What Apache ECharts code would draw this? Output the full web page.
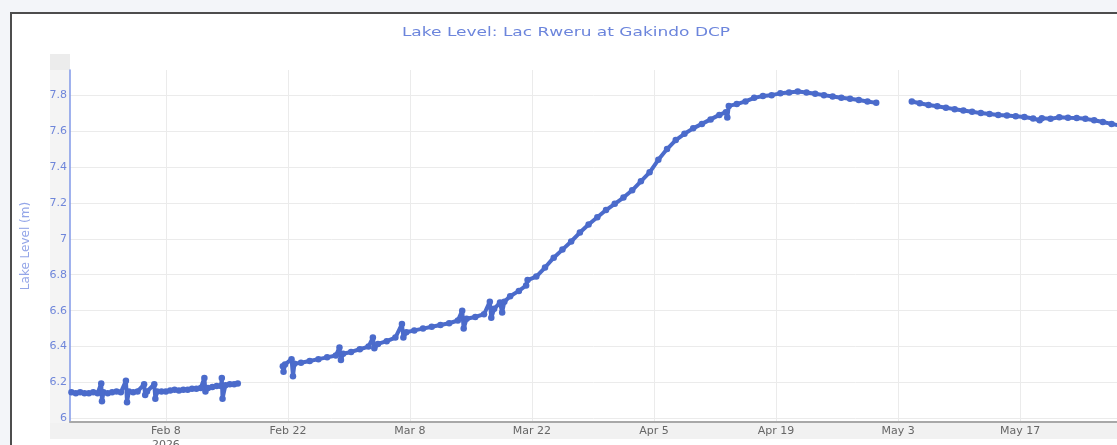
<!DOCTYPE html>
<html>
<head>
<meta charset="utf-8">
<title>Lake Level: Lac Rweru at Gakindo DCP</title>
<script src="https://cdn.jsdelivr.net/npm/echarts@6/dist/echarts.min.js"></script>
<style>
  html, body { margin: 0; padding: 0; width: 1117px; height: 445px; overflow: hidden; background: #f3f5f9; }
  .frame { position: absolute; left: 10px; top: 12px; width: 1200px; height: 500px; border: 2px solid #4d4d4d; background: #fff; }
  #chart { position: absolute; left: 0; top: 0; width: 1117px; height: 445px; }
</style>
</head>
<body>
<div class="frame"></div>
<div id="chart"></div>
<script>
// readings (local time); null = gap in the record
const times = [
  '2026-01-28T04:00', '2026-01-28T16:00', '2026-01-29T04:00', '2026-01-29T16:00',
  '2026-01-30T04:00', '2026-01-30T16:00', '2026-01-31T04:00', '2026-01-31T14:00',
  '2026-01-31T16:00', '2026-01-31T20:00', '2026-02-01T08:00', '2026-02-01T20:00',
  '2026-02-02T08:00', '2026-02-02T20:00', '2026-02-03T10:00', '2026-02-03T13:00',
  '2026-02-03T18:00', '2026-02-04T06:00', '2026-02-04T18:00', '2026-02-05T12:00',
  '2026-02-05T15:00', '2026-02-05T20:00', '2026-02-06T16:00', '2026-02-06T19:00',
  '2026-02-07T00:00', '2026-02-07T12:00', '2026-02-08T00:00', '2026-02-08T12:00',
  '2026-02-09T00:00', '2026-02-09T12:00', '2026-02-10T00:00', '2026-02-10T12:00',
  '2026-02-11T00:00', '2026-02-11T12:00', '2026-02-12T00:00', '2026-02-12T10:00',
  '2026-02-12T13:00', '2026-02-12T20:00', '2026-02-13T08:00', '2026-02-13T20:00',
  '2026-02-14T08:00', '2026-02-14T10:00', '2026-02-14T12:00', '2026-02-14T20:00',
  '2026-02-15T08:00', '2026-02-15T20:00', '2026-02-16T06:00',
  '2026-02-18T00:00',
  '2026-02-21T10:00', '2026-02-21T12:00', '2026-02-21T16:00', '2026-02-22T10:00',
  '2026-02-22T14:00', '2026-02-22T18:00', '2026-02-23T12:00', '2026-02-24T12:00',
  '2026-02-25T12:00', '2026-02-26T12:00', '2026-02-27T12:00', '2026-02-27T22:00',
  '2026-02-28T02:00', '2026-02-28T08:00', '2026-03-01T06:00', '2026-03-02T06:00',
  '2026-03-03T06:00', '2026-03-03T18:00', '2026-03-03T22:00', '2026-03-04T08:00',
  '2026-03-05T08:00', '2026-03-06T08:00', '2026-03-07T02:00', '2026-03-07T06:00',
  '2026-03-07T14:00', '2026-03-08T12:00', '2026-03-09T12:00', '2026-03-10T12:00',
  '2026-03-11T12:00', '2026-03-12T12:00', '2026-03-13T12:00', '2026-03-14T00:00',
  '2026-03-14T04:00', '2026-03-14T12:00', '2026-03-15T12:00', '2026-03-16T12:00',
  '2026-03-17T04:00', '2026-03-17T08:00', '2026-03-17T16:00', '2026-03-18T08:00',
  '2026-03-18T14:00', '2026-03-18T20:00', '2026-03-19T12:00', '2026-03-20T12:00',
  '2026-03-21T08:00', '2026-03-21T12:00', '2026-03-22T12:00', '2026-03-23T12:00',
  '2026-03-24T12:00', '2026-03-25T12:00', '2026-03-26T12:00', '2026-03-27T12:00',
  '2026-03-28T12:00', '2026-03-29T12:00', '2026-03-30T12:00', '2026-03-31T12:00',
  '2026-04-01T12:00', '2026-04-02T12:00', '2026-04-03T12:00', '2026-04-04T12:00',
  '2026-04-05T12:00', '2026-04-06T12:00', '2026-04-07T12:00', '2026-04-08T12:00',
  '2026-04-09T12:00', '2026-04-10T12:00', '2026-04-11T12:00', '2026-04-12T12:00',
  '2026-04-13T06:00', '2026-04-13T10:00', '2026-04-13T14:00', '2026-04-14T12:00',
  '2026-04-15T12:00', '2026-04-16T12:00', '2026-04-17T12:00', '2026-04-18T12:00',
  '2026-04-19T12:00', '2026-04-20T12:00', '2026-04-21T12:00', '2026-04-22T12:00',
  '2026-04-23T12:00', '2026-04-24T12:00', '2026-04-25T12:00', '2026-04-26T12:00',
  '2026-04-27T12:00', '2026-04-28T12:00', '2026-04-29T12:00', '2026-04-30T12:00',
  '2026-05-02T00:00',
  '2026-05-04T14:00', '2026-05-05T12:00', '2026-05-06T12:00', '2026-05-07T12:00',
  '2026-05-08T12:00', '2026-05-09T12:00', '2026-05-10T12:00', '2026-05-11T12:00',
  '2026-05-12T12:00', '2026-05-13T12:00', '2026-05-14T12:00', '2026-05-15T12:00',
  '2026-05-16T12:00', '2026-05-17T12:00', '2026-05-18T12:00', '2026-05-19T06:00',
  '2026-05-19T12:00', '2026-05-20T12:00', '2026-05-21T12:00', '2026-05-22T12:00',
  '2026-05-23T12:00', '2026-05-24T12:00', '2026-05-25T12:00', '2026-05-26T12:00',
  '2026-05-27T12:00', '2026-05-28T06:00'
];

const levels = [
  6.145, 6.14, 6.145, 6.14,
  6.14, 6.145, 6.14, 6.195,
  6.095, 6.145, 6.14, 6.145,
  6.15, 6.145, 6.21, 6.09,
  6.15, 6.145, 6.15, 6.19,
  6.13, 6.15, 6.19, 6.11,
  6.15, 6.15, 6.15, 6.155,
  6.16, 6.155, 6.16, 6.16,
  6.165, 6.165, 6.17, 6.225,
  6.15, 6.17, 6.175, 6.18,
  6.18, 6.225, 6.11, 6.185,
  6.19, 6.19, 6.195,
  null,
  6.29, 6.26, 6.30, 6.33,
  6.235, 6.305, 6.31, 6.32,
  6.33, 6.34, 6.35, 6.395,
  6.325, 6.36, 6.37, 6.385,
  6.40, 6.45, 6.39, 6.415,
  6.43, 6.45, 6.525, 6.45,
  6.48, 6.49, 6.50, 6.51,
  6.52, 6.53, 6.545, 6.60,
  6.50, 6.555, 6.565, 6.58,
  6.65, 6.56, 6.61, 6.645,
  6.59, 6.65, 6.68, 6.71,
  6.74, 6.77, 6.79, 6.84,
  6.895, 6.94, 6.985, 7.035,
  7.08, 7.12, 7.16, 7.195,
  7.23, 7.27, 7.32, 7.37,
  7.44, 7.50, 7.55, 7.585,
  7.615, 7.64, 7.665, 7.69,
  7.705, 7.675, 7.74, 7.75,
  7.765, 7.785, 7.795, 7.80,
  7.81, 7.815, 7.82, 7.815,
  7.808, 7.80, 7.792, 7.785,
  7.78, 7.773, 7.765, 7.757,
  null,
  7.765, 7.755, 7.745, 7.738,
  7.73, 7.722, 7.715, 7.708,
  7.70, 7.695, 7.69, 7.687,
  7.683, 7.678, 7.67, 7.66,
  7.672, 7.668, 7.677, 7.674,
  7.673, 7.668, 7.66, 7.65,
  7.64, 7.632
];

const xTickDates = ['2026-02-08', '2026-02-22', '2026-03-08', '2026-03-22',
  '2026-04-05', '2026-04-19', '2026-05-03', '2026-05-17'];
const yTicks = [6, 6.2, 6.4, 6.6, 6.8, 7, 7.2, 7.4, 7.6, 7.8];
const monthNames = ['Jan', 'Feb', 'Mar', 'Apr', 'May', 'Jun', 'Jul', 'Aug', 'Sep', 'Oct', 'Nov', 'Dec'];

const xTicks = xTickDates.map(d => new Date(d + 'T00:00:00').getTime());
const seriesData = times.map((t, i) => [new Date(t).getTime(), levels[i] == null ? '-' : levels[i]]);

const font = '"DejaVu Sans", Verdana, sans-serif';

const option = {
  animation: false,
  backgroundColor: 'transparent',
  graphic: [
    { type: 'rect', shape: { x: 50, y: 54, width: 20, height: 16 }, style: { fill: '#ececec' }, z: -10 },
    { type: 'rect', shape: { x: 50, y: 70, width: 20, height: 353 }, style: { fill: '#f4f4f4' }, z: -10 },
    { type: 'rect', shape: { x: 50, y: 423, width: 1067, height: 16 }, style: { fill: '#f1f1f1' }, z: -10 },
    {
      // chart title (stretched wide like the source image)
      type: 'text',
      x: 566,
      y: 33,
      scaleX: 1.36,
      style: {
        text: 'Lake Level: Lac Rweru at Gakindo DCP',
        font: '12.5px "DejaVu Sans", Verdana, sans-serif',
        fill: '#6c85dc',
        align: 'center',
        verticalAlign: 'middle'
      }
    }
  ],
  grid: { left: 70, top: 70, right: 0, bottom: 23, containLabel: false, outerBoundsMode: 'none' },
  xAxis: {
    type: 'value',
    min: new Date('2026-01-28T00:00:00').getTime(),
    max: new Date('2026-05-28T03:00:00').getTime(),
    axisLine: { show: true, onZero: false, lineStyle: { color: '#a8a8a8', width: 2 } },
    axisTick: { show: false, customValues: xTicks },
    splitLine: { show: true, customValues: xTicks, lineStyle: { color: '#ebebeb', width: 1 } },
    axisLabel: {
      customValues: xTicks,
      margin: 2,
      fontFamily: font,
      fontSize: 11,
      color: '#666',
      lineHeight: 14,
      formatter: function (value) {
        const d = new Date(value);
        let s = monthNames[d.getMonth()] + ' ' + d.getDate();
        if (value === xTicks[0]) s += '\n2026';
        return s;
      }
    }
  },
  yAxis: {
    type: 'value',
    min: 5.98,
    max: 7.94,
    name: 'Lake Level (m)',
    nameLocation: 'middle',
    nameGap: 38,
    nameTextStyle: { fontFamily: font, fontSize: 12, color: '#94a6e8' },
    axisLine: { show: true, lineStyle: { color: '#8099e8', width: 1.5 } },
    axisTick: { show: false, customValues: yTicks },
    splitLine: { show: true, customValues: yTicks, lineStyle: { color: '#ebebeb', width: 1 } },
    axisLabel: {
      customValues: yTicks,
      margin: 3,
      fontFamily: font,
      fontSize: 11,
      color: '#6f86da'
    }
  },
  series: [
    {
      type: 'line',
      data: seriesData,
      connectNulls: false,
      showAllSymbol: true,
      symbol: 'circle',
      symbolSize: 6.5,
      lineStyle: { color: '#4b6bcb', width: 4 },
      itemStyle: { color: '#4b6bcb' },
      z: 5
    }
  ]
};

const chart = echarts.init(document.getElementById('chart'));
chart.setOption(option);
</script>
</body>
</html>
